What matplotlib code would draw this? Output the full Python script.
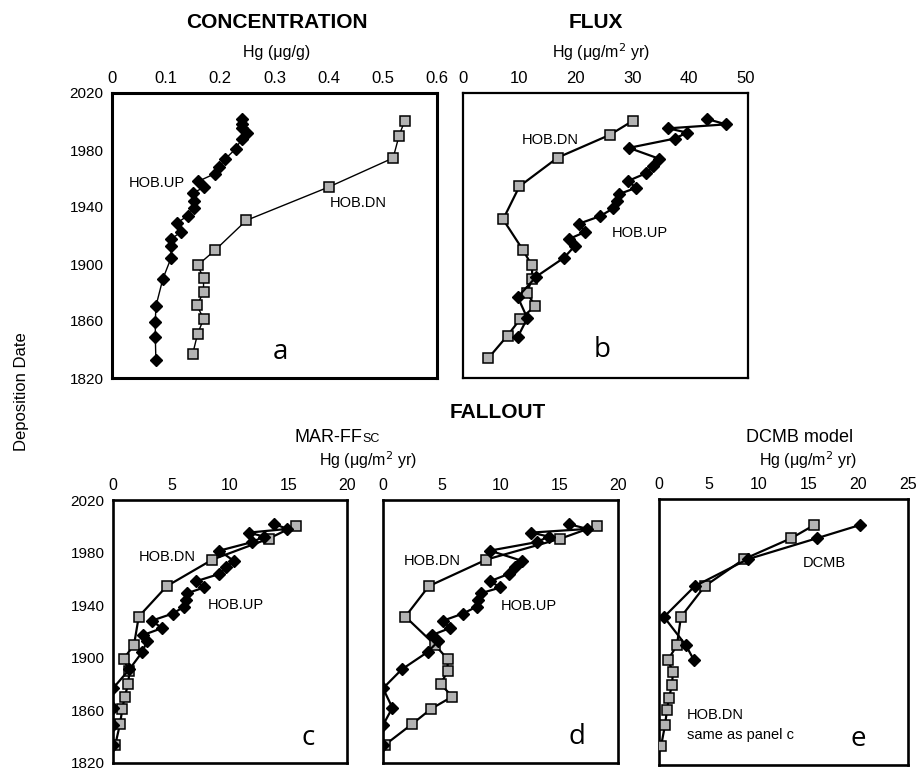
import matplotlib
matplotlib.use("Agg")
import matplotlib.pyplot as plt
import matplotlib.font_manager as fm

# ---------------- data ----------------
up_years = [2001.7, 1998.0, 1995.2, 1992.2, 1988.0, 1981.5, 1973.8, 1968.8, 1963.8,
            1958.2, 1953.5, 1949.0, 1944.0, 1939.0, 1933.6, 1928.2, 1922.6, 1917.4,
            1912.6, 1904.4, 1891.2, 1876.8, 1862.0, 1848.8, 1834.0]
dn_years = [2000.5, 1990.6, 1974.7, 1954.5, 1931.3, 1910.0, 1899.0, 1889.8, 1880.0,
            1870.5, 1861.2, 1849.8, 1834.0]
conc_up_years = [2001.8, 1998.5, 1995.4, 1991.9, 1988.0, 1980.7, 1973.7, 1968.1, 1963.4,
                 1958.0, 1953.8, 1949.8, 1944.0, 1939.3, 1933.9, 1928.8, 1922.5, 1917.6,
                 1912.9, 1904.2, 1889.7, 1870.3, 1859.3, 1848.8, 1832.4]
conc_dn_years = [2000.1, 1990.1, 1974.4, 1954.0, 1930.6, 1909.6, 1899.1, 1890.2, 1880.4,
                 1871.0, 1861.4, 1850.9, 1837.0]

conc_up = [0.240, 0.240, 0.240, 0.249, 0.240, 0.228, 0.209, 0.198, 0.190, 0.159,
           0.170, 0.149, 0.151, 0.151, 0.140, 0.120, 0.128, 0.109, 0.109, 0.109,
           0.094, 0.081, 0.080, 0.080, 0.081]
conc_dn = [0.540, 0.530, 0.519, 0.400, 0.248, 0.190, 0.158, 0.169, 0.169, 0.157,
           0.169, 0.158, 0.149]

flux_up = [43.3, 46.6, 36.4, 39.7, 37.5, 29.4, 34.8, 33.7, 32.5, 29.2, 30.7, 27.6,
           27.2, 26.6, 24.3, 20.5, 21.7, 18.7, 19.8, 17.9, 13.0, 9.7, 11.4, 9.7]
flux_dn = [30.1, 26.0, 16.8, 10.0, 7.1, 10.6, 12.2, 12.3, 11.3, 12.8, 10.1, 7.9, 4.5]

marff_up = [13.8, 14.9, 11.6, 12.9, 11.9, 9.1, 10.3, 9.7, 9.1, 7.1, 7.8, 6.3, 6.2,
            6.1, 5.1, 3.3, 4.2, 2.6, 2.9, 2.5, 1.4, 0.0, 0.0, 0.0, 0.0]
marff_dn = [15.6, 13.3, 8.5, 4.6, 2.2, 1.8, 0.9, 1.4, 1.3, 1.0, 0.8, 0.6, 0.2]

fall2_up = [15.8, 17.4, 12.6, 14.1, 13.1, 9.1, 11.8, 11.2, 10.7, 9.1, 10.0, 8.3, 8.1,
            8.0, 6.8, 5.1, 5.7, 4.2, 4.7, 3.8, 1.6, 0.0, 0.8, 0.0, 0.0]
fall2_dn = [18.2, 15.1, 8.8, 3.9, 1.9, 4.4, 5.5, 5.5, 4.9, 5.9, 4.1, 2.5, 0.2]

dcmb_vals = [20.2, 15.9, 8.9, 3.6, 0.5, 2.7, 3.5]

year_ticks = [1820, 1860, 1900, 1940, 1980, 2020]
ticks_a = [0, 0.1, 0.2, 0.3, 0.4, 0.5, 0.6]
ticks_b = [0, 10, 20, 30, 40, 50]
ticks_cd = [0, 5, 10, 15, 20]
ticks_e = [0, 5, 10, 15, 20, 25]

# ---------------- style ----------------
names = {f.name for f in fm.fontManager.ttflist}
narrow = 'Liberation Sans Narrow' if 'Liberation Sans Narrow' in names else 'Liberation Sans'
REG = ['Liberation Sans', 'DejaVu Sans']
NAR = [narrow, 'Liberation Sans', 'DejaVu Sans']
LET = ['Open Sans', 'DejaVu Sans']
plt.rcParams['font.family'] = REG

GREY = '#b3b3b3'

fig = plt.figure(figsize=(9.2, 7.68), dpi=100)
W, H = 920.0, 768.0


def make_ax(x0, x1, y0, y1):
    return fig.add_axes([x0 / W, 1 - y1 / H, (x1 - x0) / W, (y1 - y0) / H])


ax_a = make_ax(112, 437, 93, 378)
ax_b = make_ax(463, 748, 93, 378)
ax_c = make_ax(113, 347, 500, 763)
ax_d = make_ax(383, 618, 500, 763)
ax_e = make_ax(659, 908, 499, 765)


def style(ax, xlim, xticks, show_y, xfont, lw=1.9, xsize=11.5):
    ax.set_xlim(*xlim)
    ax.set_ylim(1820, 2020)
    ax.set_xticks(xticks)
    ax.set_xticklabels([('%g' % t) for t in xticks], family=xfont, fontsize=xsize)
    ax.xaxis.tick_top()
    ax.tick_params(axis='x', length=0, pad=5)
    ax.set_yticks(year_ticks)
    if show_y:
        ax.set_yticklabels([str(t) for t in year_ticks], family=REG, fontsize=11)
        ax.tick_params(axis='y', length=0, pad=6)
    else:
        ax.set_yticklabels([])
        ax.tick_params(axis='y', length=0)
    for s in ax.spines.values():
        s.set_linewidth(lw)
        s.set_color('black')


def series(ax, x, y, kind, lw):
    if kind == 'dn':
        ax.plot(x, y, color='black', lw=lw, marker='s', markersize=6.5,
                markerfacecolor=GREY, markeredgecolor='black', markeredgewidth=1.1,
                zorder=3)
    else:
        ax.plot(x, y, color='black', lw=lw, marker='D', markersize=6.5,
                markerfacecolor='black', markeredgecolor='black', zorder=4)


# panel a
series(ax_a, conc_dn, conc_dn_years, 'dn', 1.0)
series(ax_a, conc_up, conc_up_years, 'up', 1.0)
style(ax_a, (0, 0.6), ticks_a, True, NAR, lw=2.2, xsize=12)

# panel b
series(ax_b, flux_dn, dn_years, 'dn', 1.6)
series(ax_b, flux_up, up_years[:len(flux_up)], 'up', 1.6)
style(ax_b, (0, 50.5), ticks_b, False, NAR, lw=1.6, xsize=12)

# panel c
series(ax_c, marff_dn, dn_years, 'dn', 1.6)
series(ax_c, marff_up, up_years, 'up', 1.6)
style(ax_c, (0, 20), ticks_cd, True, REG)

# panel d
series(ax_d, fall2_dn, dn_years, 'dn', 1.6)
series(ax_d, fall2_up, up_years, 'up', 1.6)
style(ax_d, (0, 20), ticks_cd, False, REG)

# panel e
series(ax_e, marff_dn, dn_years, 'dn', 1.6)
series(ax_e, dcmb_vals, dn_years[:len(dcmb_vals)], 'up', 1.6)
style(ax_e, (0, 25), ticks_e, False, REG)

# ---------------- in-panel labels ----------------
lab = dict(fontsize=10.5, family=REG, va='center')
ax_a.text(0.138, 0.684, 'HOB.UP', transform=ax_a.transAxes, ha='center', **lab)
ax_a.text(0.757, 0.614, 'HOB.DN', transform=ax_a.transAxes, ha='center', **lab)
ax_b.text(0.305, 0.835, 'HOB.DN', transform=ax_b.transAxes, ha='center', **lab)
ax_b.text(0.621, 0.509, 'HOB.UP', transform=ax_b.transAxes, ha='center', **lab)
ax_c.text(0.231, 0.783, 'HOB.DN', transform=ax_c.transAxes, ha='center', **lab)
ax_c.text(0.526, 0.601, 'HOB.UP', transform=ax_c.transAxes, ha='center', **lab)
ax_d.text(0.209, 0.768, 'HOB.DN', transform=ax_d.transAxes, ha='center', **lab)
ax_d.text(0.621, 0.597, 'HOB.UP', transform=ax_d.transAxes, ha='center', **lab)
ax_e.text(0.663, 0.759, 'DCMB', transform=ax_e.transAxes, ha='center', **lab)
ax_e.text(0.112, 0.188, 'HOB.DN', transform=ax_e.transAxes, ha='left', **lab)
ax_e.text(0.112, 0.113, 'same as panel c', transform=ax_e.transAxes, ha='left', **lab)

letters = [(ax_a, 'a', 0.517, 0.091), (ax_b, 'b', 0.488, 0.098),
           (ax_c, 'c', 0.833, 0.095), (ax_d, 'd', 0.826, 0.099),
           (ax_e, 'e', 0.80, 0.099)]
for ax, t, x, y in letters:
    ax.text(x, y, t, transform=ax.transAxes, ha='center', va='center',
            fontsize=20, family=LET)

# ---------------- headings ----------------
def ftext(x, y, s, **kw):
    fig.text(x / W, 1 - y / H, s, ha='center', va='center', **kw)

title_kw = dict(fontsize=15, fontweight='bold', family=NAR)
unit_kw = dict(fontsize=11.5, family=NAR)
ftext(277, 23, 'CONCENTRATION', **title_kw)
ftext(277, 52, 'Hg (\u03bcg/g)', **unit_kw)
ftext(596, 23, 'FLUX', **title_kw)
ftext(601, 52, 'Hg (\u03bcg/m$^2$ yr)', **unit_kw)
ftext(498, 413, 'FALLOUT', **title_kw)
fig.text(362 / W, 1 - 437 / H, 'MAR-FF', ha='right', va='center', fontsize=13, family=NAR)
fig.text(362 / W, 1 - 438.5 / H, 'SC', ha='left', va='center', fontsize=9, family=NAR)
ftext(368, 460, 'Hg (\u03bcg/m$^2$ yr)', **unit_kw)
ftext(800, 437, 'DCMB model', fontsize=13, family=NAR)
ftext(808, 460, 'Hg (\u03bcg/m$^2$ yr)', **unit_kw)
fig.text(22 / W, 1 - 392 / H, 'Deposition Date', rotation=90, ha='center', va='center',
         fontsize=12, family=REG)

fig.savefig('out.png', dpi=100)
